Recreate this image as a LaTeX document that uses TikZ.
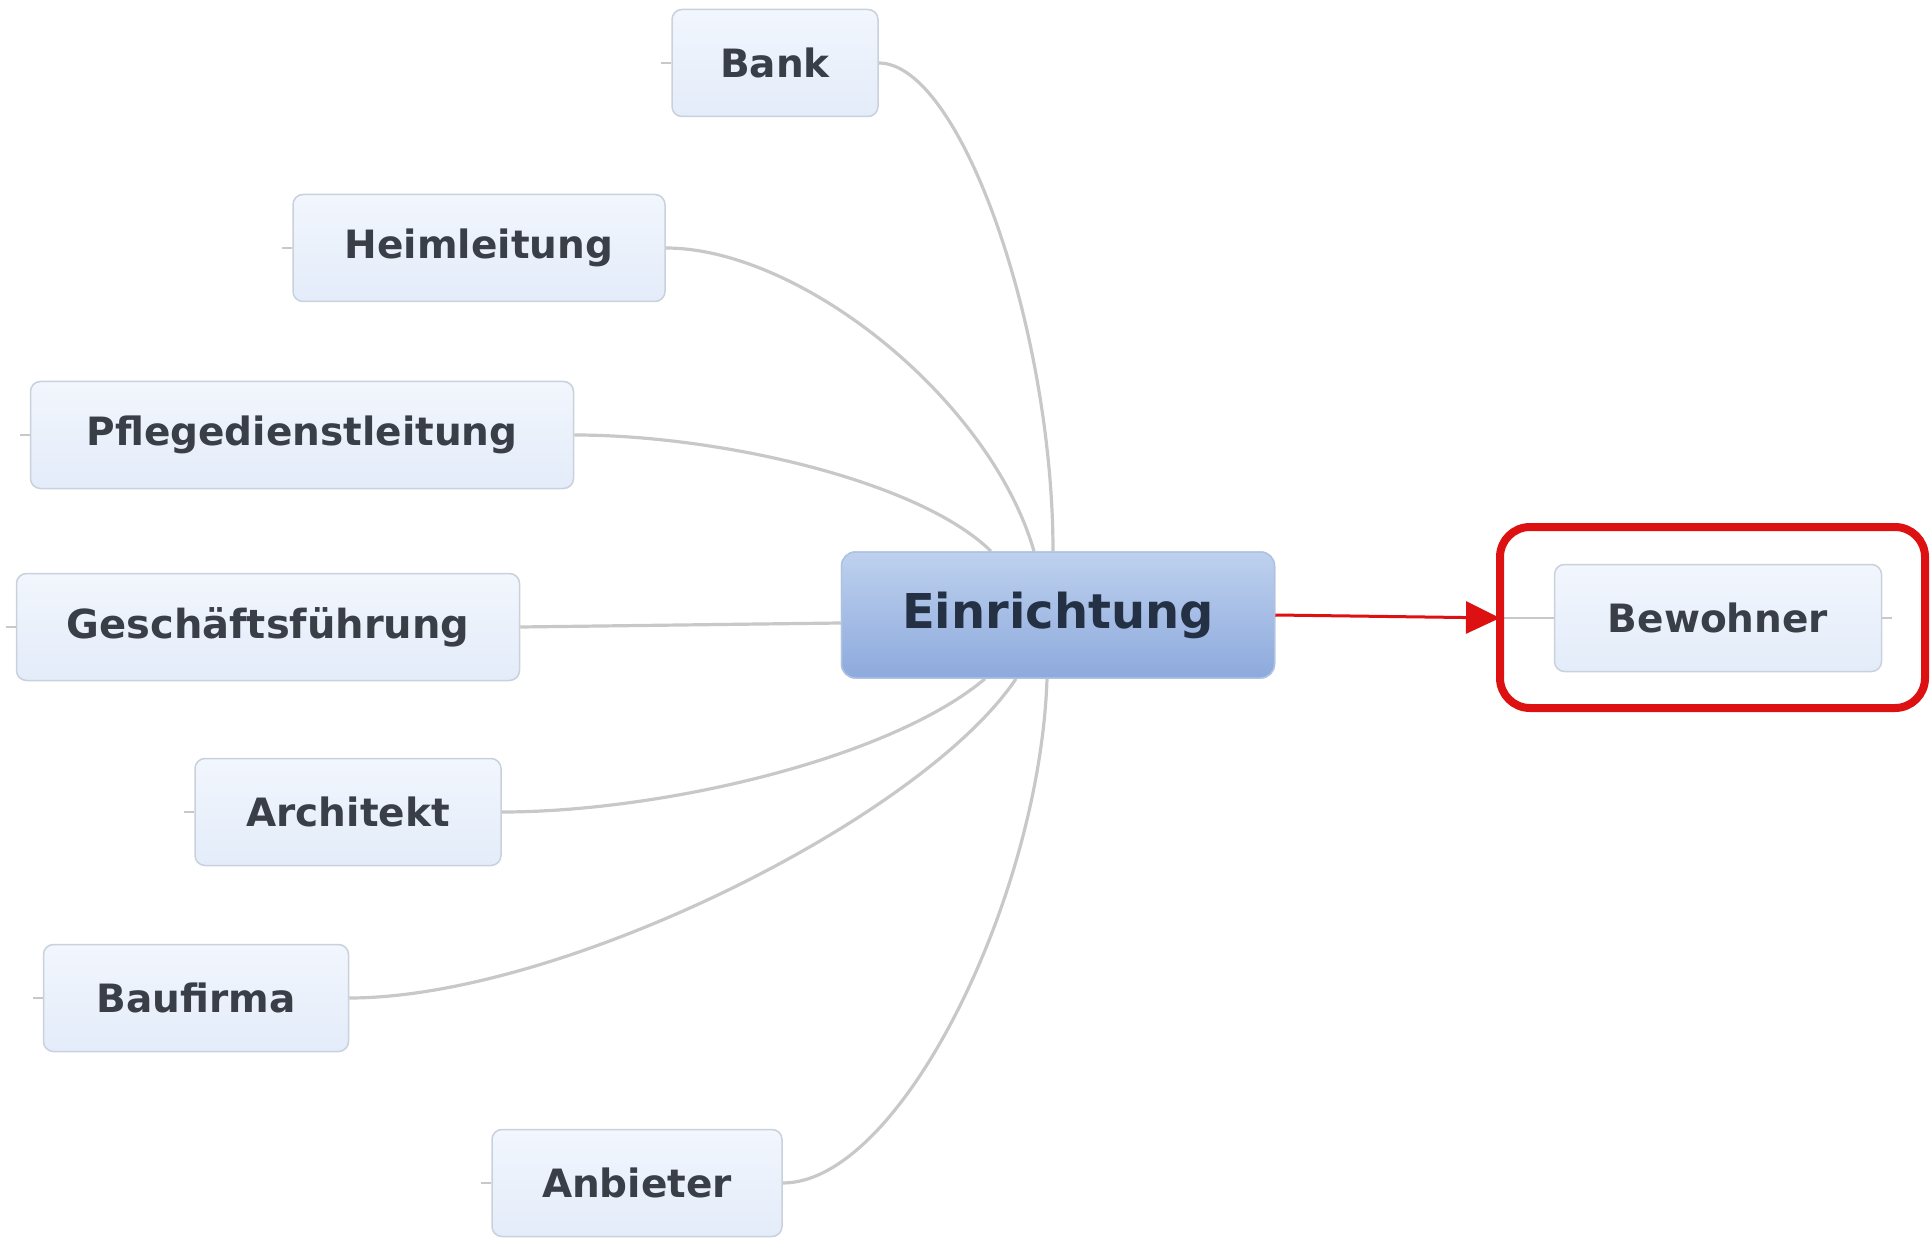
\documentclass[tikz,border=0pt]{standalone}
\usepackage{fontspec}
\setmainfont{DejaVu Sans}
\usetikzlibrary{arrows.meta,calc}
\definecolor{leaftxt}{HTML}{3A3E47}
\definecolor{roottxt}{HTML}{243044}
\definecolor{leafdraw}{HTML}{C9D1DC}
\definecolor{leaftop}{HTML}{F2F6FD}
\definecolor{leafbot}{HTML}{E3ECF9}
\definecolor{roottop}{HTML}{BED1EE}
\definecolor{rootbot}{HTML}{8DAADD}
\definecolor{rootdraw}{HTML}{AFC2E2}
\definecolor{linkgrey}{HTML}{C8C8C8}
\definecolor{hlred}{HTML}{DD1111}
\begin{document}
\begin{tikzpicture}[x=1pt,y=-1pt,
  leaf/.style={draw=leafdraw, line width=1.5pt, rounded corners=10pt,
    top color=leaftop, bottom color=leafbot, text=leaftxt,
    font=\fontsize{39}{39}\selectfont\bfseries, inner sep=0pt, minimum height=107pt},
  root/.style={draw=rootdraw, line width=1.5pt, rounded corners=14pt,
    top color=roottop, bottom color=rootbot, text=roottxt,
    font=\fontsize{48}{48}\selectfont\bfseries, inner sep=0pt,
    minimum width=433pt, minimum height=126pt},
  link/.style={draw=linkgrey, line width=3.2pt},
  stub/.style={draw=linkgrey, line width=1.5pt},
  hlarrow/.style={draw=hlred, line width=3pt, -{Triangle[length=34pt,width=32pt]}},
  hlbox/.style={draw=hlred, line width=8pt, rounded corners=30pt}]
\useasboundingbox (0,0) rectangle (1931,1238);

\node[root] (root) at (1058,615) {Einrichtung};

\node[leaf, minimum width=206pt] (bank) at (775,63) {Bank};
\node[leaf, minimum width=372pt] (heim) at (479,248) {Heimleitung};
\node[leaf, minimum width=543pt] (pfl) at (302,435) {Pflegedienstleitung};
\node[leaf, minimum width=503pt, font=\fontsize{40}{40}\selectfont\bfseries] (gf) at (268,627) {Geschäftsführung};
\node[leaf, minimum width=306pt] (arch) at (348,812) {Architekt};
\node[leaf, minimum width=305pt] (bau) at (196,998) {Baufirma};
\node[leaf, minimum width=290pt] (anb) at (637,1183) {Anbieter};
\node[leaf, minimum width=327pt] (bew) at (1718,618) {Bewohner};

\draw[link] (bank.east) .. controls ++(82,0) and ($(root.north)+(-5,-222)$) .. ([xshift=-5pt]root.north);
\draw[link] (heim.east) .. controls ++(135,0) and ($(root.north)+(-68,-152)$) .. ([xshift=-24pt]root.north);
\draw[link] (pfl.east) .. controls ++(146,0) and ($(root.north)+(-138,-70)$) .. ([xshift=-67pt]root.north);
\draw[link] (gf.east) -- ([yshift=-8pt]root.west);
\draw[link] (arch.east) .. controls ++(160,0) and ($(root.south)+(-168,80)$) .. ([xshift=-73pt]root.south);
\draw[link] (bau.east) .. controls ++(211,0) and ($(root.south)+(-136,140)$) .. ([xshift=-42pt]root.south);
\draw[link] (anb.east) .. controls ++(118,0) and ($(root.south)+(-18,218)$) .. ([xshift=-11pt]root.south);

% redraw the central node over the connectors
\node[root] at (root) {Einrichtung};

% stubs
\foreach \n in {bank,heim,pfl,gf,arch,bau,anb,bew}
  \draw[stub] (\n.west) -- ++(-10,0);
\draw[stub] (bew.east) -- ++(10,0);

% highlight
\coordinate (tip) at (1500,618);
\draw[hlarrow] (root.east) -- (tip);
\draw[stub] (tip) -- (bew.west);
\draw[hlbox] (1500,527) rectangle (1925,708);
\end{tikzpicture}
\end{document}
